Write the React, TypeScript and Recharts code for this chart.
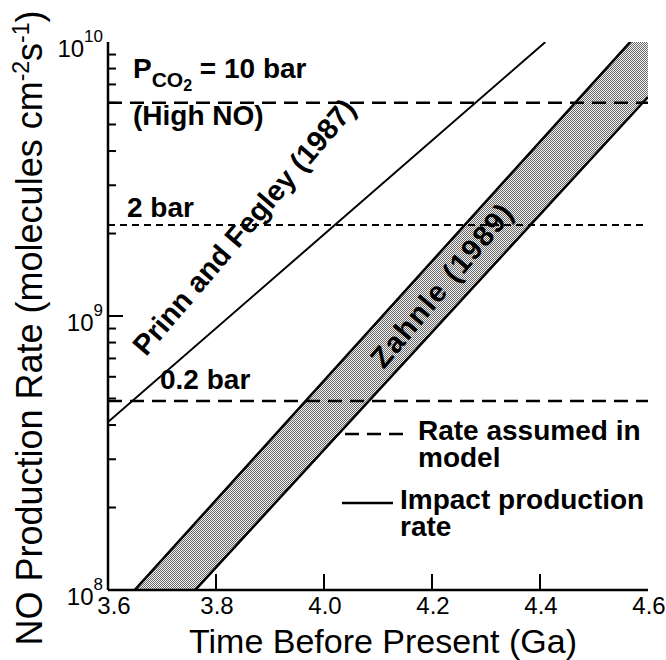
import { ComposedChart, Line, Area, XAxis, YAxis } from "recharts"

// time before present (Ga) axis
const xTicks = [3.6, 3.8, 4.0, 4.2, 4.4, 4.6]
// log ticks for NO production rate
const yTicks = [
  1e8, 2e8, 3e8, 4e8, 5e8, 6e8, 7e8, 8e8, 9e8,
  1e9, 2e9, 3e9, 4e9, 5e9, 6e9, 7e9, 8e9, 9e9, 1e10,
]
const yExponents: Record<number, string> = { 1e8: "8", 1e9: "9", 1e10: "10" }

// impact production rates
const prinnFegley = [
  { t: 3.6, rate: 4.1e8 },
  { t: 4.41, rate: 1e10 },
]
const zahnleBand = [
  { t: 3.6, low: 4.5e7, high: 7.8e7 },
  { t: 4.6, low: 6.3e9, high: 1.18e10 },
]

// rates assumed in model
const tenBar = [
  { t: 3.6, rate: 6.0e9 },
  { t: 4.6, rate: 6.0e9 },
]
const twoBar = [
  { t: 3.6, rate: 2.15e9 },
  { t: 4.6, rate: 2.15e9 },
]
const pointTwoBar = [
  { t: 3.6, rate: 4.9e8 },
  { t: 4.6, rate: 4.9e8 },
]

const W = 666
const H = 660
const LEFT = 108
const BOTTOM = 590
const FONT = "'Liberation Sans', Arial, Helvetica, sans-serif"

function YTick(props: any) {
  const { y, payload } = props
  const v = payload.value
  const exp = yExponents[v]
  const major = exp !== undefined
  return (
    <g>
      {v !== 1e8 && v !== 1e10 && (
        <line x1={LEFT} x2={LEFT + (major ? 15 : 8)} y1={y} y2={y} stroke="#000" strokeWidth={2} />
      )}
      {major && (
        <text x={LEFT - 5} y={y + 15} textAnchor="end" fontSize={24} fontFamily={FONT} fill="#000">
          10
          <tspan dy={-15} fontSize={17}>
            {exp}
          </tspan>
        </text>
      )}
    </g>
  )
}

function XTick(props: any) {
  const { x, payload } = props
  const v = payload.value
  const dx = v === 3.6 ? 6 : 1
  return (
    <g>
      {v !== 3.6 && v !== 4.6 && (
        <line x1={x} x2={x} y1={BOTTOM} y2={BOTTOM - 16} stroke="#000" strokeWidth={2} />
      )}
      <text x={x + dx} y={BOTTOM + 24} textAnchor="middle" fontSize={24} fontFamily={FONT} fill="#000">
        {v.toFixed(1)}
      </text>
    </g>
  )
}

export default function App() {
  return (
    <div style={{ position: "absolute", left: 0, top: 0, width: W, height: H, background: "#fff" }}>
      <ComposedChart width={W} height={H} margin={{ top: 42, right: 18, bottom: 0, left: 0 }}>
        <defs>
          <pattern id="stipple" width={2} height={2} patternUnits="userSpaceOnUse">
            <rect width={2} height={2} fill="#f2f2f2" />
            <rect width={1} height={1} fill="#6a6a6a" />
            <rect x={1} y={1} width={1} height={1} fill="#6a6a6a" />
          </pattern>
        </defs>
        <XAxis
          dataKey="t"
          type="number"
          domain={[3.6, 4.6]}
          ticks={xTicks}
          interval={0}
          allowDataOverflow
          height={H - BOTTOM}
          axisLine={{ stroke: "#000", strokeWidth: 2.5 }}
          tickLine={false}
          tick={<XTick />}
        />
        <XAxis
          xAxisId="top"
          orientation="top"
          type="number"
          domain={[3.6, 4.6]}
          height={0}
          tick={false}
          tickLine={false}
          axisLine={{ stroke: "#000", strokeWidth: 2.5 }}
        />
        <YAxis
          type="number"
          scale="log"
          domain={[1e8, 1e10]}
          ticks={yTicks}
          interval={0}
          allowDataOverflow
          width={LEFT}
          axisLine={{ stroke: "#000", strokeWidth: 2.5 }}
          tickLine={false}
          tick={<YTick />}
        />
        <YAxis
          yAxisId="right"
          orientation="right"
          width={0}
          tick={false}
          tickLine={false}
          axisLine={{ stroke: "#000", strokeWidth: 2.5 }}
        />
        <Area
          data={zahnleBand}
          dataKey={(d: any) => [d.low, d.high]}
          type="linear"
          fill="url(#stipple)"
          fillOpacity={1}
          stroke="#000"
          strokeWidth={2.5}
          isAnimationActive={false}
        />
        <Line
          data={prinnFegley}
          dataKey="rate"
          type="linear"
          stroke="#000"
          strokeWidth={2}
          dot={false}
          isAnimationActive={false}
        />
        <Line
          data={tenBar}
          dataKey="rate"
          type="linear"
          stroke="#000"
          strokeWidth={2.5}
          strokeDasharray="14 8"
          dot={false}
          isAnimationActive={false}
        />
        <Line
          data={twoBar}
          dataKey="rate"
          type="linear"
          stroke="#000"
          strokeWidth={2}
          strokeDasharray="7 5"
          dot={false}
          isAnimationActive={false}
        />
        <Line
          data={pointTwoBar}
          dataKey="rate"
          type="linear"
          stroke="#000"
          strokeWidth={2.5}
          strokeDasharray="14 8"
          dot={false}
          isAnimationActive={false}
        />
      </ComposedChart>

      <svg
        width={W}
        height={H}
        style={{ position: "absolute", left: 0, top: 0, pointerEvents: "none" }}
        fontFamily={FONT}
      >
        {/* axis titles */}
        <text x={383} y={653} textAnchor="middle" fontSize={34} fill="#000">
          Time Before Present (Ga)
        </text>
        <text transform="translate(42,328) rotate(-90)" textAnchor="middle" fontSize={36} fill="#000">
          NO Production Rate (molecules cm
          <tspan dy={-13} fontSize={23}>-2</tspan>
          <tspan dy={13}>s</tspan>
          <tspan dy={-13} fontSize={23}>-1</tspan>
          <tspan dy={13}>)</tspan>
        </text>

        {/* annotations */}
        <g fontWeight="bold" fontSize={28} fill="#000">
          <text x={133} y={78}>
            P<tspan dy={9} fontSize={21}>CO</tspan>
            <tspan dy={4} fontSize={16}>2</tspan>
            <tspan dy={-13} fontSize={28}> = 10 bar</tspan>
          </text>
          <text x={133} y={125}>(High NO)</text>
          <text x={127} y={217}>2 bar</text>
          <text x={160} y={389}>0.2 bar</text>
          <text
            transform="translate(244,227) rotate(-49.5)"
            textAnchor="middle"
            dominantBaseline="central"
            fontSize={29}
          >
            Prinn and Fegley (1987)
          </text>
          <text
            transform="translate(442,285) rotate(-50)"
            textAnchor="middle"
            dominantBaseline="central"
            fontSize={29}
            letterSpacing={1.5}
          >
            Zahnle (1989)
          </text>

          {/* key */}
          <line x1={345} x2={407} y1={434} y2={434} stroke="#000" strokeWidth={2.5} strokeDasharray="14 8" />
          <text x={418} y={440}>Rate assumed in</text>
          <text x={418} y={467}>model</text>
          <line x1={342} x2={393} y1={503} y2={503} stroke="#000" strokeWidth={2.5} />
          <text x={400} y={509}>Impact production</text>
          <text x={400} y={536}>rate</text>
        </g>
      </svg>
    </div>
  )
}
